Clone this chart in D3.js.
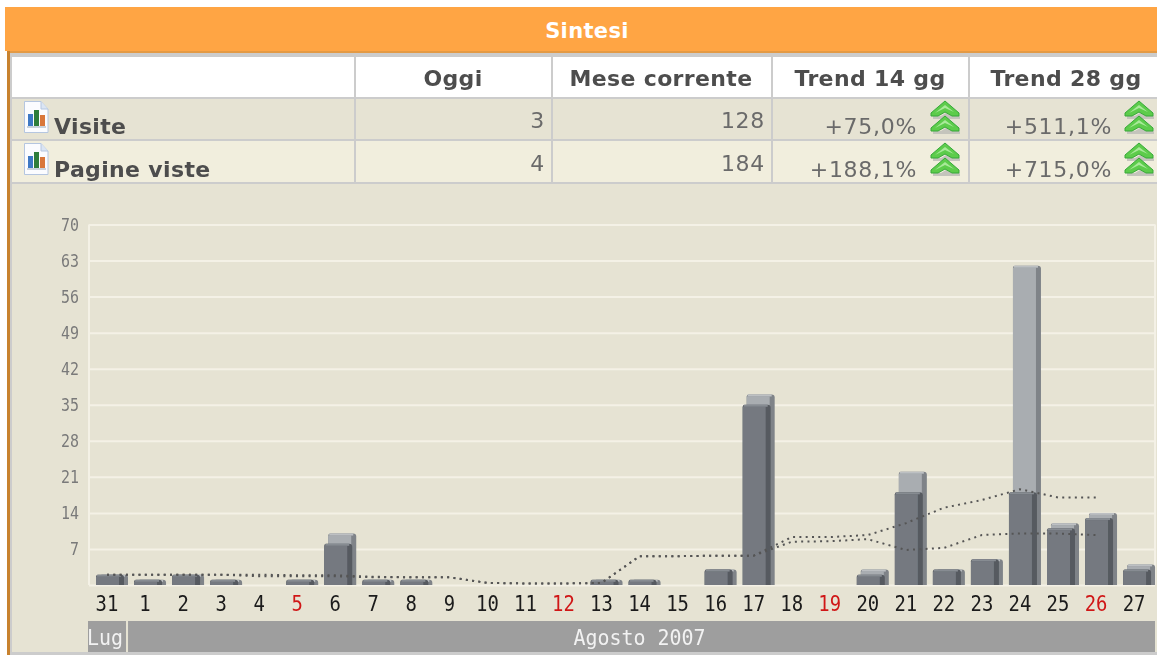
<!DOCTYPE html>
<html>
<head>
<meta charset="utf-8">
<title>Sintesi</title>
<script src="https://cdn.jsdelivr.net/npm/d3@7"></script>
<style>
    html, body { margin: 0; padding: 0; background: #fff; overflow: hidden; }
    svg { display: block; }
    text { font-family: "DejaVu Sans", sans-serif; }
    .mono text, text.mono { font-family: "DejaVu Sans Mono", monospace; }
    .head { letter-spacing: 0.35px; }
    .val { letter-spacing: 0.7px; }
</style>
</head>
<body>
<svg id="chart" width="1157" height="655"></svg>
<script>
// table content
const columns = ['Oggi', 'Mese corrente', 'Trend 14 gg', 'Trend 28 gg'];
const columnCenter = [453, 661, 870, 1066];
const rowNames = ['Visite', 'Pagine viste'];
const oggi = [3, 4];
const mese = [128, 184];
const trend14 = ['+75,0%', '+188,1%'];
const trend28 = ['+511,1%', '+715,0%'];

// chart content
const days = ['31', '1', '2', '3', '4', '5', '6', '7', '8', '9', '10', '11', '12', '13',
    '14', '15', '16', '17', '18', '19', '20', '21', '22', '23', '24', '25', '26', '27'];
const holidays = ['5', '12', '19', '26'];
const visite = [2, 1, 2, 1, 0, 1, 8, 1, 1, 0, 0, 0, 0, 1, 1, 0, 3, 35, 0, 0, 2, 18, 3, 5, 18, 11, 13, 3];
const pagine = [2, 1, 2, 1, 0, 1, 10, 1, 1, 0, 0, 0, 0, 1, 1, 0, 3, 37, 0, 0, 3, 22, 3, 5, 62, 12, 14, 4];
const trendDays = days.slice(0, 27);
const mediaPagine = [2, 2, 2, 2, 2, 1.9, 1.9, 1.6, 1.5, 1.5, 0.4, 0.3, 0.3, 0.4, 5.6, 5.6, 5.7, 5.7, 9.3, 9.3, 9.7, 12, 15, 16.5, 18.6, 17, 17];
const mediaVisite = [2, 2, 2, 2, 1.7, 1.7, 1.7, 1.5, 1.5, 1.5, 0.4, 0.3, 0.3, 0.4, 5.6, 5.6, 5.7, 5.7, 8.4, 8.5, 8.9, 6.8, 7.2, 9.7, 10, 10, 9.7];
const yTicks = [7, 14, 21, 28, 35, 42, 49, 56, 63, 70];
const months = ['Lug', 'Agosto 2007'];
const monthSpan = [['31', '31'], ['1', '27']];

const svg = d3.select('#chart');

// the source is an upscaled screenshot, everything is a bit soft
const defs = svg.append('defs');
defs.append('filter').attr('id', 'soft').attr('x', '-5%').attr('y', '-5%').attr('width', '110%').attr('height', '110%')
    .append('feGaussianBlur').attr('stdDeviation', 0.6);
defs.append('filter').attr('id', 'softText').attr('x', '-5%').attr('y', '-5%').attr('width', '110%').attr('height', '110%')
    .append('feGaussianBlur').attr('stdDeviation', 0.35);

// page frame
svg.append('rect').attr('x', 5).attr('y', 7).attr('width', 1152).attr('height', 44).attr('fill', '#ffa544');
svg.append('rect').attr('x', 7).attr('y', 51).attr('width', 3).attr('height', 604).attr('fill', '#c8822f');
svg.append('rect').attr('x', 10).attr('y', 51).attr('width', 1147).attr('height', 604).attr('fill', '#cccccc');
svg.append('rect').attr('x', 10).attr('y', 51).attr('width', 1147).attr('height', 2).attr('fill', '#e39a45');
svg.append('text').attr('x', 587).attr('y', 37.5).attr('text-anchor', 'middle').attr('class', 'head')
    .attr('font-size', 21).attr('font-weight', 'bold').attr('fill', '#fff').text('Sintesi');

// table
const colEdges = [12, 356, 553, 773, 970, 1157];
const rowEdges = [57, 99, 141];
const rowHeight = 40;
const rowFill = ['#e6e3d3', '#f1eedd'];

svg.append('rect').attr('x', 12).attr('y', 184).attr('width', 1145).attr('height', 468).attr('fill', '#e6e3d3');

colEdges.slice(0, -1).forEach((x0, i) => {
    let w = colEdges[i + 1] - x0 - (i < 4 ? 2 : 0);
    svg.append('rect').attr('x', x0).attr('y', rowEdges[0]).attr('width', w).attr('height', rowHeight).attr('fill', '#fff');
    rowNames.forEach((r, j) => {
        svg.append('rect').attr('x', x0).attr('y', rowEdges[j + 1]).attr('width', w)
            .attr('height', rowHeight + (j == 1 ? 1 : 0)).attr('fill', rowFill[j]);
    });
});

columns.forEach((c, i) => {
    svg.append('text')
        .attr('class', 'head')
        .attr('x', columnCenter[i])
        .attr('y', 86)
        .attr('text-anchor', 'middle')
        .attr('font-size', 22)
        .attr('font-weight', 'bold')
        .attr('fill', '#4d4d4d')
        .attr('filter', 'url(#softText)')
        .text(c);
});

function docIcon(x, y) {
    let g = svg.append('g').attr('transform', `translate(${x},${y})`).attr('filter', 'url(#softText)');
    g.append('path').attr('d', 'M0.5 0.5H17L24 8V31.5H0.5Z').attr('fill', '#fbfcff').attr('stroke', '#b5c6e0');
    g.append('path').attr('d', 'M17 0.5V8H24').attr('fill', '#dbe5f3').attr('stroke', '#b5c6e0');
    g.append('rect').attr('x', 4).attr('y', 13).attr('width', 5).attr('height', 12).attr('fill', '#3d78c4');
    g.append('rect').attr('x', 10).attr('y', 9).attr('width', 5).attr('height', 16).attr('fill', '#2f7d3a');
    g.append('rect').attr('x', 16).attr('y', 14).attr('width', 5).attr('height', 11).attr('fill', '#d9773a');
    g.append('rect').attr('x', 3).attr('y', 25).attr('width', 19).attr('height', 2).attr('fill', '#c9d2dc');
}

function upIcon(x, y) {
    let g = svg.append('g').attr('transform', `translate(${x},${y})`).attr('filter', 'url(#softText)');
    [0, 15].forEach(dy => {
        // shadow
        g.append('path').attr('d', `M2 ${dy + 16}H10L15 ${dy + 13}L21 ${dy + 16}H29V${dy + 19}H2Z`).attr('fill', '#c4c4bc');
        g.append('path').attr('d', `M0 ${dy + 13}L14 ${dy + 1}L28 ${dy + 13}V${dy + 16}H21L14 ${dy + 12}L7 ${dy + 16}H0Z`)
            .attr('fill', '#5dcc4c').attr('stroke', '#36a838').attr('stroke-width', 1);
        g.append('path').attr('d', `M4 ${dy + 13}L14 ${dy + 5}L23 ${dy + 12}L14 ${dy + 8}Z`).attr('fill', '#a9e99a');
    });
}

rowNames.forEach((r, j) => {
    let base = j == 0 ? 134 : 177;
    let valueBase = j == 0 ? 128 : 171;
    docIcon(24, j == 0 ? 101 : 143);
    svg.append('text').attr('x', 54).attr('y', base).attr('class', 'head')
        .attr('font-size', 22).attr('font-weight', 'bold').attr('fill', '#4d4d4d').attr('filter', 'url(#softText)').text(r);
    [[545, valueBase, oggi[j]], [765, valueBase, mese[j]], [917, base, trend14[j]], [1112, base, trend28[j]]].forEach(c => {
        svg.append('text').attr('x', c[0]).attr('y', c[1]).attr('text-anchor', 'end').attr('class', 'val')
            .attr('font-size', 22).attr('fill', '#6b6b6b').attr('filter', 'url(#softText)').text(c[2]);
    });
    upIcon(931, j == 0 ? 100 : 142);
    upIcon(1125, j == 0 ? 100 : 142);
});

// chart
const margin = {left: 89, right: 1155, top: 224.5, bottom: 585};

const xScale = d3.scaleBand()
    .domain(days)
    .range([88, 88 + 38.04 * days.length]);

const yScale = d3.scaleLinear()
    .domain([0, 70])
    .range([margin.bottom, margin.top]);

const yAxis = svg.append('g')
    .attr('class', 'mono')
    .attr('transform', `translate(${margin.left},0)`)
    .call(d3.axisLeft(yScale).tickValues(yTicks).tickSize(-(margin.right - margin.left)).tickPadding(10));
yAxis.select('.domain').remove();
yAxis.selectAll('line').attr('stroke', '#f4f1e6').attr('stroke-width', 2);
yAxis.selectAll('text')
    .attr('font-size', 18)
    .attr('fill', '#7a7a7a')
    .attr('dy', '0.32em')
    .attr('textLength', d => String(d).length * 9)
    .attr('lengthAdjust', 'spacingAndGlyphs')
    .attr('filter', 'url(#softText)');

// plot borders
svg.append('line').attr('x1', margin.left).attr('x2', margin.left).attr('y1', margin.top).attr('y2', margin.bottom)
    .attr('stroke', '#f4f1e6').attr('stroke-width', 2);
svg.append('line').attr('x1', margin.right).attr('x2', margin.right).attr('y1', margin.top).attr('y2', margin.bottom)
    .attr('stroke', '#f4f1e6').attr('stroke-width', 2);
svg.append('line').attr('x1', margin.left).attr('x2', margin.right).attr('y1', margin.bottom + 0.5).attr('y2', margin.bottom + 0.5)
    .attr('stroke', '#f4f1e6').attr('stroke-width', 2);

function drawBars(values, dx, body, side, rim) {
    let g = svg.append('g').attr('filter', 'url(#soft)');
    let shown = days.map((d, i) => ({day: d, v: values[i]})).filter(d => d.v > 0);
    g.selectAll('path.body').data(shown).enter().append('path')
        .attr('d', d => {
            let x0 = xScale(d.day) + dx, y0 = yScale(d.v);
            return `M${x0} ${margin.bottom}V${y0 + 2}Q${x0} ${y0} ${x0 + 2} ${y0}H${x0 + 25}Q${x0 + 28} ${y0} ${x0 + 28} ${y0 + 3}V${margin.bottom}Z`;
        })
        .attr('fill', side);
    g.selectAll('rect.front').data(shown).enter().append('rect')
        .attr('x', d => xScale(d.day) + dx)
        .attr('y', d => yScale(d.v) + 2)
        .attr('width', 23)
        .attr('height', d => margin.bottom - yScale(d.v) - 2)
        .attr('fill', body);
    g.selectAll('rect.rim').data(shown).enter().append('rect')
        .attr('x', d => xScale(d.day) + dx + 1)
        .attr('y', d => yScale(d.v))
        .attr('width', 24)
        .attr('height', 2)
        .attr('fill', rim);
}

drawBars(pagine, 12, '#a9adb1', '#7f8388', '#bdc0c3');
drawBars(visite, 8, '#747980', '#565a60', '#878c92');

// moving averages
const line = d3.line()
    .x(d => xScale(d.day) + 19)
    .y(d => yScale(d.v));

[mediaPagine, mediaVisite].forEach(serie => {
    svg.append('path')
        .datum(trendDays.map((d, i) => ({day: d, v: serie[i]})))
        .attr('d', line)
        .attr('fill', 'none')
        .attr('stroke', '#555')
        .attr('stroke-width', 2)
        .attr('stroke-dasharray', '2,4.3')
        .attr('filter', 'url(#softText)');
});

// month change marker
svg.append('line')
    .attr('x1', xScale('1')).attr('x2', xScale('1'))
    .attr('y1', margin.top + 4).attr('y2', yScale(2))
    .attr('transform', 'translate(1,0)')
    .attr('stroke', '#7191da')
    .attr('stroke-width', 2.5)
    .attr('stroke-dasharray', '11,9')
    .attr('filter', 'url(#softText)');

// day labels
svg.append('g').attr('class', 'mono')
    .selectAll('text').data(days).enter().append('text')
    .attr('x', d => xScale(d) + 19)
    .attr('y', 611)
    .attr('text-anchor', 'middle')
    .attr('font-size', 22)
    .attr('textLength', d => d.length * 11.4)
    .attr('lengthAdjust', 'spacingAndGlyphs')
    .attr('fill', d => holidays.includes(d) ? '#d01818' : '#1a1a1a')
    .attr('filter', 'url(#softText)')
    .text(d => d);

// month band
months.forEach((m, i) => {
    let x0 = i == 0 ? margin.left - 1 : xScale(monthSpan[i][0]) + 2;
    let x1 = i == 0 ? xScale(monthSpan[i][1]) + 38 : margin.right;
    svg.append('rect').attr('x', x0).attr('y', 621).attr('width', x1 - x0).attr('height', 31).attr('fill', '#9e9e9e');
    svg.append('text').attr('class', 'mono')
        .attr('x', (x0 + x1) / 2 - 2).attr('y', 645)
        .attr('text-anchor', 'middle')
        .attr('font-size', 22)
        .attr('textLength', m.length * 12)
        .attr('lengthAdjust', 'spacingAndGlyphs')
        .attr('fill', '#f2f2f2')
        .attr('filter', 'url(#softText)')
        .text(m);
});
</script>
</body>
</html>
